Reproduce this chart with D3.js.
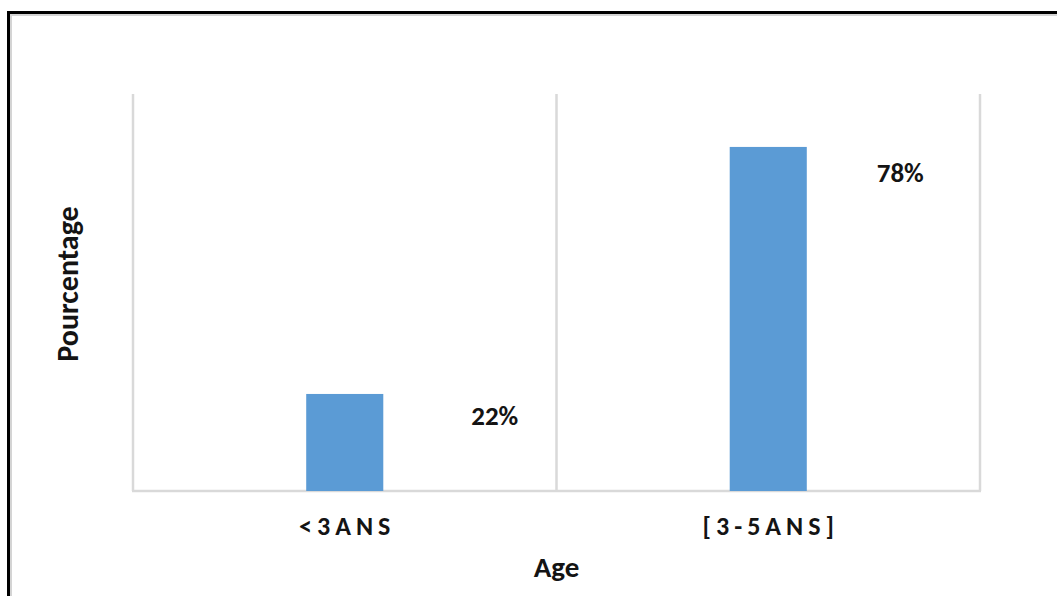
<!DOCTYPE html>
<html>
<head>
<meta charset="utf-8">
<script src="https://cdn.jsdelivr.net/npm/d3@7"></script>
<style>
  html, body { margin: 0; padding: 0; background: #fff; }
  svg { display: block; }
  text { font-family: Carlito, Lato, "Open Sans", sans-serif; font-weight: 700; fill: #141414; }
</style>
</head>
<body>
<svg id="chart" width="1057" height="596"></svg>
<script>
// Age groups and their share of children (%)
const categories = ["<3ANS", "[3-5ANS]"];
const values = [22, 78];
const valueLabels = ["22%", "78%"];
const yDomain = [0, 90];

const W = 1057, H = 596;
const margin = { top: 94, right: 77, bottom: 105, left: 133 };
const svg = d3.select("#chart");

// outer frame of the chart object (runs past the right and bottom edges)
svg.append("rect")
  .attr("x", 11).attr("y", 15).attr("width", W + 20).attr("height", H + 20)
  .attr("fill", "none").attr("stroke", "#d4d4d4").attr("stroke-width", 2);
svg.append("rect")
  .attr("x", 8.5).attr("y", 12.5).attr("width", W + 20).attr("height", H + 20)
  .attr("fill", "none").attr("stroke", "#000").attr("stroke-width", 3);

const x = d3.scaleBand()
  .domain(categories)
  .range([margin.left, W - margin.right])
  .paddingInner(0).paddingOuter(0);

const y = d3.scaleLinear()
  .domain(yDomain)
  .range([H - margin.bottom, margin.top]);

const grid = svg.append("g").attr("stroke", "#d9d9d9").attr("stroke-width", 2.5);

// vertical separators at category boundaries
const bounds = categories.map(c => x(c)).concat([x.range()[1]]);
grid.selectAll("line.v").data(bounds).join("line")
  .attr("class", "v")
  .attr("x1", d => d).attr("x2", d => d)
  .attr("y1", y(yDomain[1])).attr("y2", y(0));

// baseline
grid.append("line")
  .attr("x1", x.range()[0] - 1).attr("x2", x.range()[1] + 1)
  .attr("y1", y(0)).attr("y2", y(0));

// bars
const barW = x.bandwidth() * 0.182;
svg.append("g").selectAll("rect").data(values).join("rect")
  .attr("x", (d, i) => x(categories[i]) + (x.bandwidth() - barW) / 2)
  .attr("y", d => y(d))
  .attr("width", barW)
  .attr("height", d => y(0) - y(d))
  .attr("fill", "#5b9bd5");

// value labels, placed to the right of each bar
const labelNudge = [{ dx: 150, dy: 31 }, { dx: 132, dy: 35 }];
svg.append("g").selectAll("text").data(values).join("text")
  .attr("x", (d, i) => x(categories[i]) + x.bandwidth() / 2 + labelNudge[i].dx)
  .attr("y", (d, i) => y(d) + labelNudge[i].dy)
  .attr("text-anchor", "middle")
  .attr("font-size", 27)
  .text((d, i) => valueLabels[i]);

// category axis
const ls = 5;
const xAxis = svg.append("g")
  .attr("transform", `translate(0,${y(0)})`)
  .call(d3.axisBottom(x).tickSize(0).tickPadding(0));
xAxis.attr("font-family", null).attr("font-size", null);
xAxis.select(".domain").remove();
xAxis.selectAll("text")
  .attr("y", 44).attr("dy", 0)
  .attr("dx", ls / 2)
  .attr("font-size", 26)
  .attr("letter-spacing", ls);

// axis titles
svg.append("text")
  .attr("x", (x.range()[0] + x.range()[1]) / 2)
  .attr("y", 577)
  .attr("text-anchor", "middle")
  .attr("font-size", 29)
  .text("Age");

svg.append("text")
  .attr("transform", "translate(78,284) rotate(-90)")
  .attr("text-anchor", "middle")
  .attr("font-size", 30)
  .text("Pourcentage");
</script>
</body>
</html>
